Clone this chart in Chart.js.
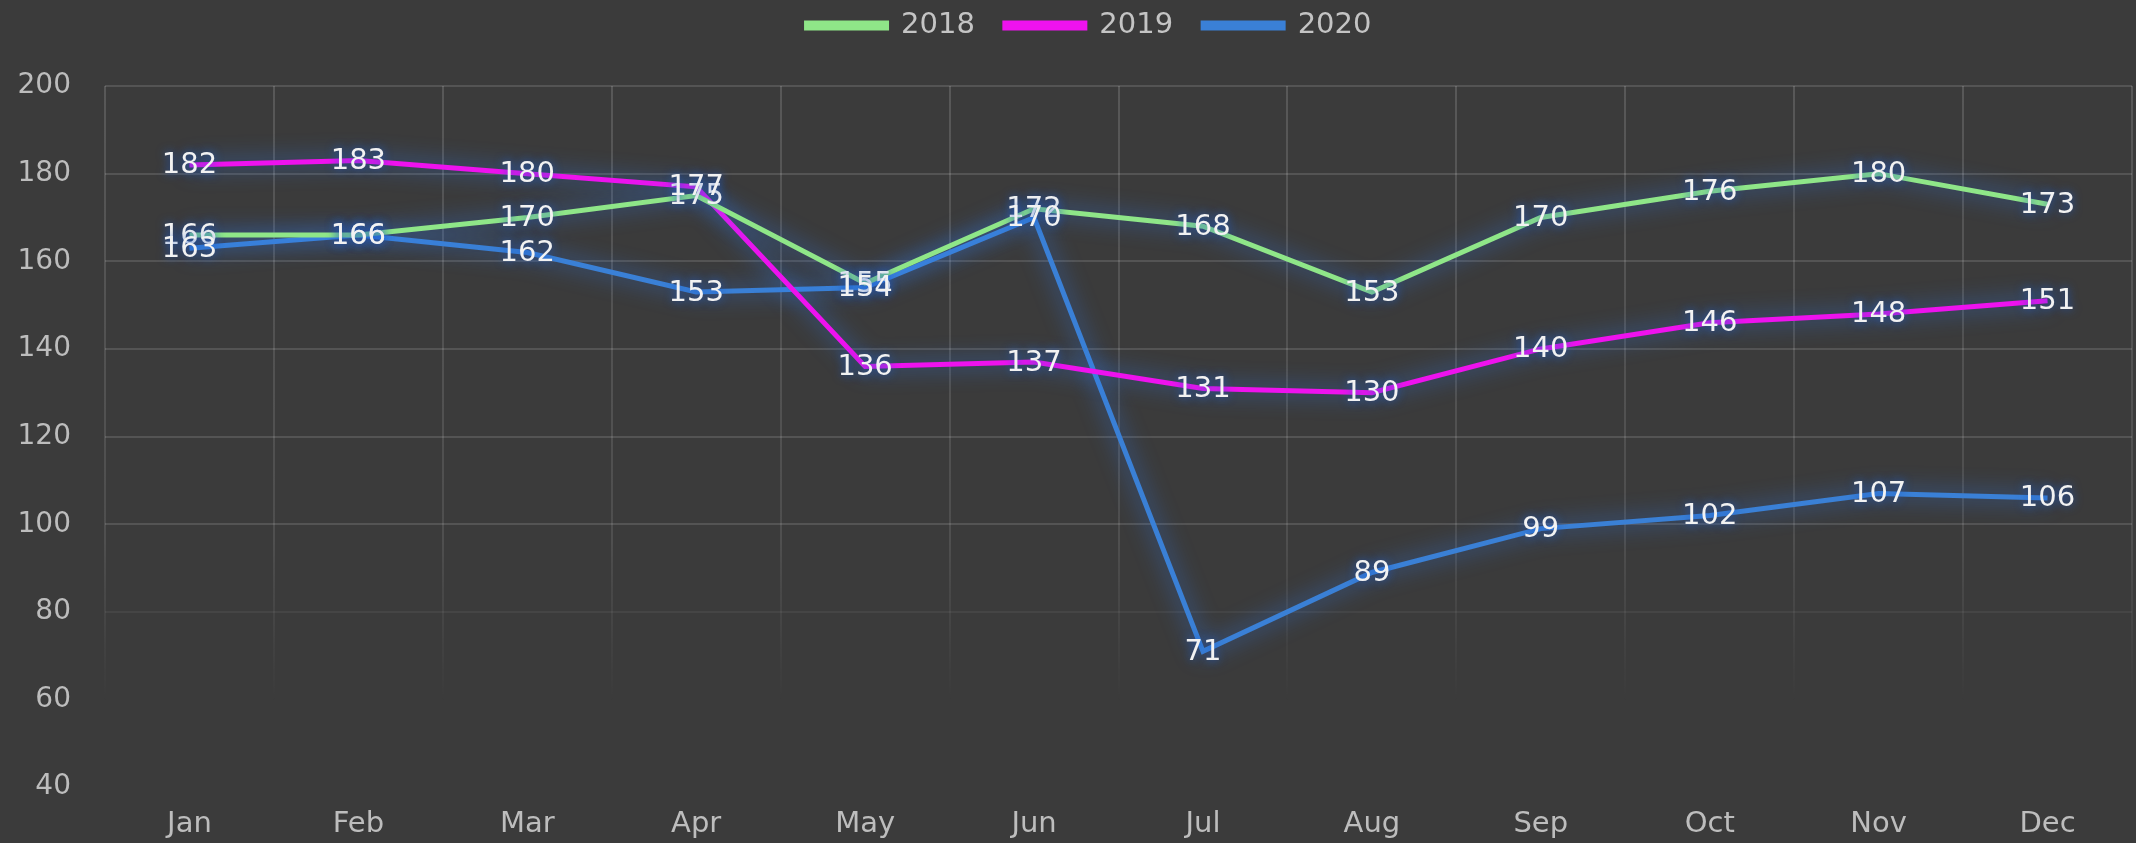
<!DOCTYPE html>
<html>
<head>
<meta charset="utf-8">
<script src="https://cdn.jsdelivr.net/npm/chart.js@4/dist/chart.umd.min.js"></script>
<style>
    html, body { margin: 0; padding: 0; background: #3b3b3b; }
    #wrap { width: 2136px; height: 843px; }
</style>
</head>
<body>
<div id="wrap"><canvas id="myChart"></canvas></div>
<script>
    // Data-----
    const months = ['Jan', 'Feb', 'Mar', 'Apr', 'May', 'Jun', 'Jul', 'Aug', 'Sep', 'Oct', 'Nov', 'Dec'];
    const values2018 = [166, 166, 170, 175, 155, 172, 168, 153, 170, 176, 180, 173];
    const values2019 = [182, 183, 180, 177, 136, 137, 131, 130, 140, 146, 148, 151];
    const values2020 = [163, 166, 162, 153, 154, 170, 71, 89, 99, 102, 107, 106];
    // Data-----

    const fontFamily = '"DejaVu Sans", sans-serif';

    // glow under the lines
    const glowPlugin = {
        id: 'glow',
        beforeDatasetDraw(chart) {
            const ctx = chart.ctx;
            ctx.save();
            ctx.shadowColor = 'rgba(50,130,255,0.8)';
            ctx.shadowBlur = 22;
        },
        afterDatasetDraw(chart) {
            chart.ctx.restore();
        }
    };

    // legend sits a little right of centre in the original
    const legendShift = {
        id: 'legendShift',
        afterLayout(chart) {
            if (chart.legend) {
                chart.legend.left += 23;
                chart.legend.right += 23;
            }
        }
    };

    // value labels centred on each point
    const valueLabels = {
        id: 'valueLabels',
        afterDatasetsDraw(chart) {
            const ctx = chart.ctx;
            ctx.save();
            ctx.font = '29px ' + fontFamily;
            ctx.textAlign = 'center';
            ctx.textBaseline = 'middle';
            ctx.fillStyle = '#f2f2f2';
            ctx.shadowColor = 'rgba(30,90,200,0.9)';
            ctx.shadowBlur = 10;
            chart.data.datasets.forEach((ds, i) => {
                chart.getDatasetMeta(i).data.forEach((pt, j) => {
                    ctx.fillText(ds.data[j], pt.x, pt.y + 1);
                });
            });
            ctx.restore();
        }
    };

    function fadeGrid(context) {
        const chart = context.chart;
        const area = chart.chartArea;
        if (!area) return 'rgba(255,255,255,0.13)';
        const g = chart.ctx.createLinearGradient(0, area.top, 0, area.bottom);
        g.addColorStop(0, 'rgba(255,255,255,0.15)');
        g.addColorStop(0.65, 'rgba(255,255,255,0.10)');
        g.addColorStop(0.88, 'rgba(255,255,255,0.0)');
        g.addColorStop(1, 'rgba(255,255,255,0.0)');
        return g;
    }

    // Config-----
    const config = {
        type: 'line',
        data: {
            labels: months,
            datasets: [{
                label: '2018',
                data: values2018,
                borderColor: '#8fe688',
                backgroundColor: '#8fe688',
                borderWidth: 5,
                radius: 0,
                tension: 0
            }, {
                label: '2019',
                data: values2019,
                borderColor: '#ee12ee',
                backgroundColor: '#ee12ee',
                borderWidth: 5,
                radius: 0,
                tension: 0
            }, {
                label: '2020',
                data: values2020,
                borderColor: '#3a80d6',
                backgroundColor: '#3a80d6',
                borderWidth: 5,
                radius: 0,
                tension: 0
            }]
        },
        options: {
            responsive: true,
            maintainAspectRatio: false,
            animation: false,
            layout: {
                padding: {left: 0, right: 4, top: -19, bottom: -19}
            },
            plugins: {
                legend: {
                    position: 'top',
                    weight: 3000,
                    labels: {
                        color: '#c4c4c4',
                        font: {family: fontFamily, size: 29},
                        boxWidth: 80,
                        boxHeight: 5,
                        padding: 30
                    }
                },
                // empty title used as a spacer between legend and plot
                title: {
                    display: true,
                    text: '',
                    font: {size: 10, lineHeight: 1},
                    padding: {top: 0, bottom: 26}
                },
                tooltip: {enabled: false}
            },
            scales: {
                x: {
                    offset: true,
                    grid: {
                        offset: true,
                        color: fadeGrid,
                        lineWidth: 2,
                        drawTicks: false
                    },
                    border: {display: false},
                    ticks: {
                        color: '#bdbdbd',
                        font: {family: fontFamily, size: 29},
                        padding: 20
                    }
                },
                y: {
                    min: 40,
                    max: 200,
                    afterFit(scale) { scale.width = 105; },
                    grid: {
                        color: (c) => c.tick && c.tick.value < 80 ? 'rgba(255,255,255,0)' :
                            (c.tick && c.tick.value < 100 ? 'rgba(255,255,255,0.05)' : 'rgba(255,255,255,0.13)'),
                        lineWidth: 2,
                        drawTicks: false
                    },
                    border: {display: false},
                    ticks: {
                        stepSize: 20,
                        color: '#bdbdbd',
                        font: {family: fontFamily, size: 28},
                        padding: 34
                    }
                }
            }
        },
        plugins: [glowPlugin, legendShift, valueLabels]
    };
    // Config-----

    var myChart = new Chart(
        document.getElementById('myChart'),
        config
    );
</script>
</body>
</html>
